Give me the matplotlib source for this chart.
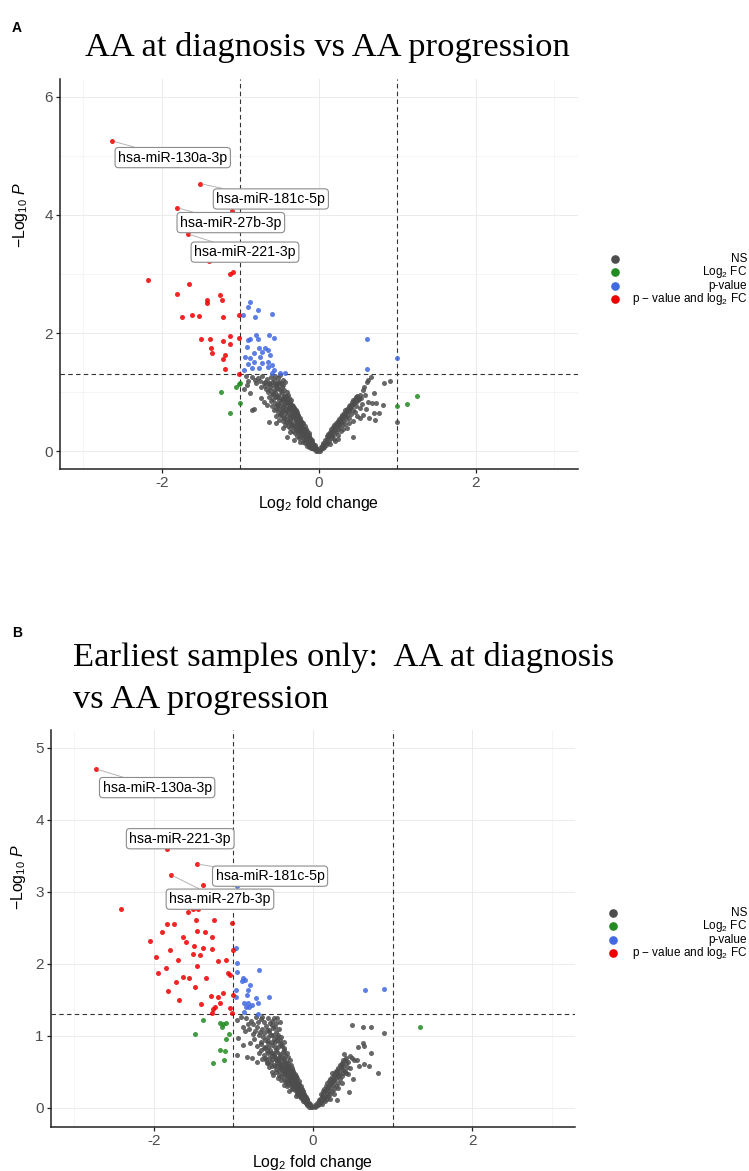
import numpy as np
import matplotlib
matplotlib.use('Agg')
import matplotlib.pyplot as plt
from matplotlib.lines import Line2D

plt.rcParams['font.family'] = ['Liberation Sans', 'DejaVu Sans']
plt.rcParams['mathtext.fontset'] = 'custom'
plt.rcParams['mathtext.rm'] = 'Liberation Sans'
plt.rcParams['mathtext.it'] = 'Liberation Sans:italic'
plt.rcParams['mathtext.bf'] = 'Liberation Sans:bold'

# ---------------- panel A: AA at diagnosis vs AA progression ----------------
# labelled miRNAs (log2FC, -log10 p)
top_a = ['hsa-miR-130a-3p', 'hsa-miR-181c-5p', 'hsa-miR-27b-3p', 'hsa-miR-221-3p']
top_a_fc = [-2.63, -1.51, -1.80, -1.67]
top_a_lp = [5.25, 4.53, 4.12, 3.68]

# p < 0.05 and |log2FC| > 1
both_a = [(-1.11, 4.07), (-1.40, 3.22), (-1.13, 3.00), (-1.09, 3.03), (-2.18, 2.90),
          (-1.65, 2.83), (-1.81, 2.66), (-1.26, 2.64), (-1.42, 2.56), (-1.42, 2.51),
          (-1.23, 2.56), (-1.74, 2.28), (-1.62, 2.30), (-1.52, 2.29), (-1.22, 2.28),
          (-1.01, 2.30), (-1.50, 1.90), (-1.39, 1.90), (-1.22, 1.87), (-1.13, 1.95),
          (-1.13, 1.81), (-1.01, 1.92), (-1.37, 1.75), (-1.36, 1.66), (-1.19, 1.63),
          (-1.22, 1.56), (-1.20, 1.39), (-1.01, 1.31)]

# p < 0.05 only
pval_a = [(-0.87, 2.53), (-0.90, 2.44), (-0.78, 2.39), (-0.81, 2.27), (-0.59, 2.32),
          (-0.97, 2.30), (-0.90, 1.88), (-0.87, 1.90), (-0.80, 1.97), (-0.78, 1.90),
          (-0.63, 1.97), (-0.57, 1.92), (-0.92, 1.76), (-0.76, 1.75), (-0.69, 1.75),
          (-0.65, 1.71), (-0.72, 1.68), (-0.83, 1.66), (-0.94, 1.59), (-0.87, 1.58),
          (-0.75, 1.59), (-0.62, 1.63), (-0.90, 1.47), (-0.82, 1.51), (-0.72, 1.49),
          (-0.65, 1.51), (-0.60, 1.46), (-0.95, 1.37), (-0.85, 1.41), (-0.76, 1.41),
          (-0.65, 1.42), (-0.57, 1.37), (-0.49, 1.32), (-0.43, 1.32), (-0.59, 1.32),
          (0.62, 1.90), (0.62, 1.39), (0.995, 1.58)]

# |log2FC| > 1 only
fc_a = [(-1.24, 1.00), (-1.13, 0.64), (-1.06, 1.08), (-1.00, 1.15), (-1.01, 1.13),
        (-1.00, 0.81), (1.00, 0.76), (1.13, 0.80), (1.25, 0.93)]

# not significant
ns_a = [(-0.93, 1.27), (-0.85, 1.25), (-0.77, 1.24), (-0.72, 1.28), (-0.66, 1.22),
        (-0.61, 1.26), (-0.57, 1.20), (-0.52, 1.24), (-0.49, 1.29), (-0.90, 1.19),
        (-0.80, 1.16), (-0.70, 1.15), (-0.64, 1.13), (-0.59, 1.17), (-0.55, 1.10),
        (-0.50, 1.14), (-0.92, 1.12), (-0.74, 1.08), (-0.67, 1.06), (-0.62, 1.09),
        (-0.57, 1.04), (-0.53, 1.07), (-0.48, 1.02), (-0.88, 0.99), (-0.65, 1.00),
        (-0.60, 0.97), (-0.56, 1.01), (-0.52, 0.95), (-0.47, 0.98), (-0.44, 0.94),
        (-0.83, 0.71), (-0.70, 0.83), (-0.73, 0.90), (-0.63, 0.92), (-0.58, 0.89),
        (-0.54, 0.91), (-0.50, 0.87), (-0.46, 0.90), (-0.42, 0.86), (-0.61, 0.85),
        (-0.56, 0.82), (-0.52, 0.80), (-0.48, 0.83), (-0.44, 0.79), (-0.40, 0.81),
        (-0.37, 0.77), (-0.66, 0.78), (-0.59, 0.76), (-0.54, 0.74), (-0.50, 0.72),
        (-0.46, 0.75), (-0.42, 0.71), (-0.38, 0.73), (-0.34, 0.69), (-0.57, 0.69),
        (-0.52, 0.66), (-0.47, 0.68), (-0.43, 0.64), (-0.39, 0.66), (-0.35, 0.62),
        (-0.31, 0.64), (-0.64, 0.49), (-0.55, 0.60), (-0.49, 0.61), (-0.45, 0.58),
        (-0.41, 0.59), (-0.37, 0.55), (-0.33, 0.57), (-0.29, 0.53), (-0.54, 0.47),
        (-0.50, 0.53), (-0.46, 0.51), (-0.42, 0.49), (-0.38, 0.50), (-0.35, 0.46),
        (-0.31, 0.48), (-0.27, 0.45), (-0.45, 0.39), (-0.43, 0.44), (-0.39, 0.42),
        (-0.36, 0.40), (-0.32, 0.41), (-0.29, 0.37), (-0.25, 0.39), (-0.22, 0.35),
        (-0.41, 0.24), (-0.37, 0.33), (-0.33, 0.35), (-0.30, 0.31), (-0.27, 0.33),
        (-0.24, 0.29), (-0.21, 0.30), (-0.18, 0.27), (-0.32, 0.19), (-0.28, 0.25),
        (-0.25, 0.23), (-0.22, 0.24), (-0.19, 0.21), (-0.16, 0.22), (-0.14, 0.18),
        (-0.24, 0.15), (-0.20, 0.16), (-0.17, 0.14), (-0.14, 0.13), (-0.12, 0.15),
        (-0.10, 0.11), (-0.15, 0.09), (-0.12, 0.08), (-0.09, 0.07), (-0.07, 0.09),
        (-0.05, 0.05), (-0.04, 0.03), (-0.02, 0.02), (-0.01, 0.01), (-0.48, 0.63),
        (-0.44, 0.56), (-0.40, 0.53), (-0.36, 0.51), (-0.34, 0.44), (-0.30, 0.42),
        (-0.26, 0.36), (-0.23, 0.32), (-0.20, 0.26), (-0.18, 0.19), (-0.15, 0.17),
        (-0.11, 0.12), (-0.08, 0.10), (-0.06, 0.06), (-0.53, 0.78), (-0.49, 0.76),
        (-0.45, 0.70), (-0.41, 0.68), (-0.37, 0.60), (-0.33, 0.59), (-0.28, 0.50),
        (-0.26, 0.47), (-0.85, 0.70), (-0.95, 1.05),
        (-0.46, 1.21), (-0.43, 1.17), (-0.51, 1.18), (-0.54, 1.13), (-0.47, 1.09),
        (-0.44, 1.04), (-0.41, 1.00), (-0.50, 1.05), (-0.45, 1.12), (-0.39, 0.96),
        (-0.42, 0.93), (-0.38, 0.90), (-0.35, 0.86), (-0.44, 0.88), (-0.40, 0.84),
        (-0.36, 0.80), (-0.33, 0.77), (-0.31, 0.73), (-0.29, 0.69), (-0.32, 0.67),
        (-0.28, 0.63), (-0.26, 0.60), (-0.30, 0.61), (-0.27, 0.56), (-0.25, 0.54),
        (-0.23, 0.50), (-0.21, 0.47), (-0.24, 0.45), (-0.22, 0.42), (-0.20, 0.39),
        (-0.19, 0.36), (-0.17, 0.33), (-0.16, 0.30), (-0.14, 0.27), (-0.13, 0.24),
        (-0.12, 0.21), (-0.11, 0.19), (-0.10, 0.17), (-0.09, 0.14), (-0.08, 0.12),
        (-0.07, 0.11), (-0.06, 0.09), (-0.05, 0.08), (-0.04, 0.06), (-0.03, 0.05),
        (-0.02, 0.04), (-0.03, 0.01), (-0.06, 0.03), (-0.08, 0.05), (-0.10, 0.06),
        (-0.58, 0.97), (-0.55, 0.94), (-0.51, 0.91), (-0.47, 0.86), (-0.43, 0.82),
        (-0.39, 0.75), (-0.36, 0.71), (-0.34, 0.66), (-0.31, 0.59), (-0.29, 0.55),
        (-0.27, 0.51), (-0.25, 0.46), (-0.23, 0.41), (-0.21, 0.37), (-0.19, 0.32),
        (-0.17, 0.29), (-0.15, 0.25), (-0.13, 0.20), (-0.12, 0.17), (-0.10, 0.14),
        (-0.62, 1.03), (-0.68, 1.11), (-0.75, 1.19), (-0.81, 1.21), (-0.69, 1.18),
        (-0.63, 1.16), (-0.58, 1.12), (-0.53, 1.16), (-0.48, 1.15), (-0.56, 1.27),
        (-0.40, 0.89), (-0.37, 0.84), (-0.34, 0.79), (-0.32, 0.74), (-0.30, 0.70),
        (-0.28, 0.66), (-0.26, 0.62), (-0.24, 0.57), (-0.22, 0.52), (-0.20, 0.48),
        (-0.18, 0.43), (-0.16, 0.38), (-0.15, 0.34), (-0.13, 0.31), (-0.12, 0.27),
        (-0.11, 0.23), (-0.09, 0.19), (-0.08, 0.16), (-0.07, 0.13), (-0.05, 0.10),
        (0.66, 1.26), (0.63, 1.20), (0.83, 1.15), (0.91, 1.19), (0.61, 1.17),
        (0.58, 1.08), (0.56, 1.03), (0.52, 0.95), (0.59, 0.95), (0.70, 0.98),
        (0.63, 0.83), (0.68, 0.81), (0.73, 0.81), (0.82, 0.78), (0.70, 0.64),
        (0.77, 0.64), (0.72, 0.53), (0.64, 0.56), (0.44, 0.24), (1.00, 0.49),
        (0.54, 0.90), (0.50, 0.86), (0.47, 0.91), (0.45, 0.83), (0.42, 0.79),
        (0.48, 0.77), (0.52, 0.74), (0.40, 0.73), (0.44, 0.70), (0.38, 0.68),
        (0.46, 0.66), (0.41, 0.63), (0.36, 0.62), (0.33, 0.59), (0.39, 0.57),
        (0.35, 0.54), (0.31, 0.52), (0.43, 0.51), (0.28, 0.49), (0.33, 0.46),
        (0.30, 0.44), (0.26, 0.41), (0.24, 0.37), (0.28, 0.35), (0.22, 0.33),
        (0.20, 0.29), (0.25, 0.28), (0.17, 0.26), (0.15, 0.22), (0.19, 0.20),
        (0.13, 0.17), (0.11, 0.14), (0.14, 0.12), (0.09, 0.10), (0.07, 0.07),
        (0.05, 0.05), (0.03, 0.03), (0.02, 0.01), (0.36, 0.40), (0.31, 0.37),
        (0.57, 0.62), (0.60, 0.72), (0.55, 0.80), (0.49, 0.60), (0.53, 0.57),
        (0.38, 0.48), (0.25, 0.20), (0.21, 0.17),
        (0.10, 0.25), (0.12, 0.30), (0.14, 0.33), (0.16, 0.38), (0.18, 0.41),
        (0.20, 0.44), (0.22, 0.48), (0.24, 0.52), (0.26, 0.55), (0.28, 0.58),
        (0.30, 0.62), (0.32, 0.65), (0.34, 0.69), (0.36, 0.72), (0.38, 0.76),
        (0.40, 0.79), (0.42, 0.83), (0.44, 0.86), (0.46, 0.89), (0.49, 0.93),
        (0.08, 0.19), (0.11, 0.21), (0.13, 0.27), (0.15, 0.31), (0.17, 0.35),
        (0.19, 0.38), (0.21, 0.42), (0.23, 0.45), (0.25, 0.49), (0.27, 0.52),
        (0.29, 0.56), (0.31, 0.60), (0.33, 0.63), (0.35, 0.66), (0.37, 0.70),
        (0.39, 0.73), (0.41, 0.76), (0.43, 0.80), (0.47, 0.84), (0.51, 0.88),
        (0.06, 0.14), (0.04, 0.09), (0.07, 0.12), (0.05, 0.11), (0.03, 0.07),
        (0.09, 0.16), (0.12, 0.24), (0.16, 0.27), (0.21, 0.36), (0.26, 0.46)]

# ---------------- panel B: earliest samples only ----------------
top_b = ['hsa-miR-130a-3p', 'hsa-miR-221-3p', 'hsa-miR-181c-5p', 'hsa-miR-27b-3p']
top_b_fc = [-2.73, -1.84, -1.46, -1.79]
top_b_lp = [4.71, 3.60, 3.39, 3.24]

both_b = [(-1.38, 3.10), (-2.42, 2.76), (-1.57, 2.72), (-1.51, 2.76), (-1.45, 2.76),
          (-1.84, 2.56), (-1.47, 2.61), (-1.25, 2.61), (-1.02, 2.57), (-1.64, 2.38),
          (-1.46, 2.46), (-1.36, 2.44), (-1.27, 2.38), (-1.50, 2.25), (-1.38, 2.22),
          (-1.27, 2.21), (-1.01, 2.19), (-1.51, 2.14), (-1.42, 2.12), (-1.19, 2.04),
          (-1.09, 2.06), (-1.46, 1.97), (-1.07, 1.88), (-1.04, 1.85), (-1.64, 1.82),
          (-1.56, 1.81), (-1.35, 1.81), (-1.48, 1.68), (-1.13, 1.60), (-1.28, 1.56),
          (-1.19, 1.54), (-1.01, 1.57), (-1.41, 1.44), (-1.23, 1.40), (-1.26, 1.38),
          (-1.17, 1.46), (-1.04, 1.39), (-1.27, 1.32), (-1.02, 1.32), (-2.05, 2.32),
          (-1.98, 2.10), (-1.90, 2.45), (-1.85, 1.95), (-1.80, 2.20), (-1.75, 2.55),
          (-1.72, 1.75), (-1.70, 2.05), (-1.95, 1.88), (-1.82, 1.62), (-1.68, 1.50),
          (-1.60, 2.30)]

pval_b = [(-0.96, 3.08), (-0.97, 2.22), (-0.96, 2.02), (-0.68, 1.92), (-0.96, 1.89),
          (-0.88, 1.81), (-0.86, 1.78), (-0.89, 1.76), (-0.79, 1.71), (-0.82, 1.64),
          (-0.97, 1.64), (-0.83, 1.57), (-0.72, 1.53), (-0.69, 1.46), (-0.55, 1.54),
          (-0.87, 1.46), (-0.82, 1.46), (-0.84, 1.40), (-0.81, 1.40), (-0.77, 1.43),
          (-0.97, 1.54), (-0.87, 1.33), (-0.69, 1.31), (0.65, 1.64), (0.89, 1.65)]

fc_b = [(-1.38, 1.22), (-1.48, 1.03), (-1.17, 1.18), (-1.13, 1.17), (-1.09, 1.18),
        (-1.14, 1.13), (-1.06, 1.03), (-1.17, 0.81), (-1.11, 0.79), (-1.09, 0.96),
        (-1.26, 0.63), (-1.12, 0.67), (1.35, 1.13)]

ns_b = [(-0.96, 1.22), (-0.90, 1.27), (-0.84, 1.25), (-0.78, 1.21), (-0.72, 1.26),
        (-0.66, 1.23), (-0.62, 1.20), (-0.57, 1.25), (-0.51, 1.21), (-0.46, 1.18),
        (-0.88, 1.13), (-0.82, 1.16), (-0.70, 1.13), (-0.64, 1.10), (-0.59, 1.14),
        (-0.55, 1.08), (-0.50, 1.11), (-0.47, 1.05), (-0.43, 1.09), (-0.94, 0.97),
        (-0.76, 1.03), (-0.68, 1.01), (-0.61, 1.04), (-0.57, 0.98), (-0.53, 1.01),
        (-0.49, 0.96), (-0.45, 0.99), (-0.41, 0.94), (-0.88, 0.88), (-0.79, 0.90),
        (-0.60, 0.85), (-0.66, 0.92), (-0.56, 0.90), (-0.52, 0.87), (-0.48, 0.91),
        (-0.44, 0.85), (-0.40, 0.88), (-0.37, 0.83), (-0.96, 0.74), (-0.83, 0.71),
        (-0.77, 0.69), (-0.70, 0.64), (-0.58, 0.79), (-0.54, 0.81), (-0.50, 0.77),
        (-0.46, 0.80), (-0.42, 0.75), (-0.38, 0.78), (-0.35, 0.73), (-0.62, 0.73),
        (-0.55, 0.70), (-0.51, 0.72), (-0.47, 0.67), (-0.43, 0.70), (-0.39, 0.65),
        (-0.36, 0.68), (-0.32, 0.63), (-0.58, 0.62), (-0.53, 0.64), (-0.49, 0.60),
        (-0.45, 0.62), (-0.41, 0.58), (-0.37, 0.60), (-0.34, 0.56), (-0.30, 0.58),
        (-0.27, 0.53), (-0.52, 0.50), (-0.47, 0.54), (-0.43, 0.51), (-0.39, 0.53),
        (-0.35, 0.49), (-0.32, 0.51), (-0.29, 0.47), (-0.25, 0.49), (-0.23, 0.44),
        (-0.44, 0.41), (-0.40, 0.45), (-0.36, 0.42), (-0.33, 0.44), (-0.30, 0.40),
        (-0.27, 0.42), (-0.24, 0.38), (-0.21, 0.40), (-0.19, 0.35), (-0.37, 0.32),
        (-0.34, 0.36), (-0.31, 0.33), (-0.28, 0.35), (-0.25, 0.31), (-0.22, 0.33),
        (-0.19, 0.29), (-0.17, 0.31), (-0.15, 0.27), (-0.30, 0.24), (-0.26, 0.27),
        (-0.23, 0.25), (-0.20, 0.22), (-0.17, 0.24), (-0.15, 0.20), (-0.13, 0.22),
        (-0.11, 0.18), (-0.22, 0.16), (-0.18, 0.17), (-0.15, 0.14), (-0.12, 0.15),
        (-0.10, 0.12), (-0.08, 0.13), (-0.13, 0.09), (-0.10, 0.08), (-0.08, 0.06),
        (-0.06, 0.07), (-0.04, 0.04), (-0.03, 0.02), (-0.01, 0.01), (-0.48, 0.71),
        (-0.44, 0.66), (-0.40, 0.61), (-0.36, 0.55), (-0.33, 0.52), (-0.29, 0.45),
        (-0.26, 0.41), (-0.24, 0.36), (-0.21, 0.30), (-0.18, 0.25), (-0.16, 0.19),
        (-0.14, 0.16), (-0.11, 0.11), (-0.09, 0.10), (-0.07, 0.08), (-0.56, 0.76),
        (-0.52, 0.68), (-0.46, 0.58), (-0.42, 0.55), (-0.38, 0.48), (-0.31, 0.38),
        (-0.28, 0.30), (-0.20, 0.19), (-0.86, 1.07), (-0.74, 0.96), (-0.70, 0.86),
        (-0.65, 0.80), (-0.60, 0.69), (-0.55, 0.57), (-0.50, 0.46),
        (-0.45, 1.25), (-0.41, 1.20), (-0.52, 1.15), (-0.48, 1.13), (-0.44, 1.02),
        (-0.40, 0.98), (-0.37, 0.92), (-0.45, 0.95), (-0.50, 1.02), (-0.55, 1.05),
        (-0.42, 0.90), (-0.39, 0.86), (-0.36, 0.80), (-0.33, 0.76), (-0.31, 0.71),
        (-0.29, 0.66), (-0.34, 0.64), (-0.28, 0.60), (-0.26, 0.56), (-0.31, 0.55),
        (-0.25, 0.51), (-0.23, 0.47), (-0.21, 0.44), (-0.20, 0.41), (-0.18, 0.37),
        (-0.17, 0.33), (-0.15, 0.30), (-0.14, 0.26), (-0.12, 0.23), (-0.11, 0.20),
        (-0.10, 0.17), (-0.09, 0.15), (-0.08, 0.11), (-0.07, 0.10), (-0.05, 0.07),
        (-0.04, 0.06), (-0.02, 0.03), (-0.05, 0.02), (-0.07, 0.04), (-0.09, 0.07),
        (-0.60, 0.95), (-0.56, 0.93), (-0.52, 0.92), (-0.48, 0.84), (-0.45, 0.78),
        (-0.41, 0.72), (-0.38, 0.69), (-0.35, 0.62), (-0.33, 0.59), (-0.30, 0.53),
        (-0.28, 0.49), (-0.26, 0.45), (-0.24, 0.42), (-0.22, 0.37), (-0.20, 0.33),
        (-0.18, 0.28), (-0.16, 0.23), (-0.14, 0.20), (-0.13, 0.17), (-0.11, 0.14),
        (-0.64, 1.27), (-0.69, 1.19), (-0.75, 1.16), (-0.80, 1.10), (-0.73, 1.07),
        (-0.67, 1.06), (-0.63, 0.99), (-0.58, 1.08), (-0.54, 1.18), (-0.49, 1.25),
        (-0.65, 0.89), (-0.62, 0.83), (-0.57, 0.84), (-0.53, 0.77), (-0.49, 0.74),
        (-0.46, 0.68), (-0.43, 0.62), (-0.40, 0.57), (-0.37, 0.52), (-0.35, 0.47),
        (-0.32, 0.43), (-0.29, 0.38), (-0.27, 0.34), (-0.25, 0.28), (-0.22, 0.26),
        (-0.19, 0.22), (-0.17, 0.19), (-0.15, 0.16), (-0.12, 0.12), (-0.10, 0.09),
        (-0.68, 0.76), (-0.64, 0.68), (-0.59, 0.66), (-0.56, 0.63), (-0.52, 0.58),
        (-0.47, 0.50), (-0.43, 0.46), (-0.40, 0.39), (-0.35, 0.38), (-0.33, 0.31),
        (0.49, 1.15), (0.63, 1.13), (0.73, 1.13), (0.89, 1.04), (0.57, 0.85),
        (0.63, 0.90), (0.64, 0.86), (0.73, 0.77), (0.39, 0.75), (0.49, 0.69),
        (0.52, 0.67), (0.58, 0.58), (0.64, 0.61), (0.70, 0.58), (0.82, 0.49),
        (0.38, 0.67), (0.38, 0.58), (0.38, 0.49), (0.30, 0.50), (0.24, 0.49),
        (0.45, 0.22), (0.30, 0.11), (0.50, 0.40), (0.55, 0.67), (0.41, 0.62),
        (0.35, 0.55), (0.33, 0.46), (0.29, 0.42), (0.27, 0.37), (0.31, 0.35),
        (0.25, 0.32), (0.22, 0.29), (0.26, 0.26), (0.20, 0.24), (0.18, 0.21),
        (0.22, 0.19), (0.16, 0.17), (0.14, 0.14), (0.17, 0.12), (0.12, 0.11),
        (0.10, 0.08), (0.08, 0.06), (0.06, 0.04), (0.04, 0.03), (0.02, 0.01),
        (0.36, 0.44), (0.40, 0.52), (0.43, 0.57), (0.34, 0.40), (0.29, 0.30),
        (0.24, 0.23), (0.19, 0.16), (0.32, 0.28), (0.27, 0.20), (0.21, 0.13),
        (0.44, 0.47), (0.47, 0.55), (0.37, 0.34), (0.15, 0.09), (0.11, 0.05),
        (0.10, 0.20), (0.12, 0.24), (0.14, 0.27), (0.16, 0.31), (0.18, 0.34),
        (0.20, 0.37), (0.22, 0.40), (0.24, 0.43), (0.26, 0.46), (0.28, 0.50),
        (0.30, 0.53), (0.32, 0.56), (0.34, 0.60), (0.36, 0.63), (0.38, 0.53),
        (0.40, 0.66), (0.42, 0.70), (0.31, 0.45), (0.27, 0.40), (0.23, 0.35),
        (0.19, 0.29), (0.15, 0.23), (0.13, 0.19), (0.11, 0.16), (0.09, 0.13),
        (0.07, 0.09), (0.05, 0.07), (0.03, 0.04), (0.08, 0.11), (0.13, 0.15),
        (0.17, 0.27), (0.21, 0.33), (0.25, 0.37), (0.29, 0.47), (0.33, 0.50),
        (0.35, 0.58), (0.37, 0.61), (0.44, 0.64), (0.46, 0.72), (0.41, 0.48)]

legend_labels = ['NS', r'Log$_2$ FC', 'p-value', r'p $-$ value and log$_2$ FC']
colours = ['#4d4d4d', '#228b22', '#4169e1', '#ee0000']

W, H = 749, 1171
fig = plt.figure(figsize=(W / 100, H / 100), dpi=100)


def px_axes(l, t, r, b):
    return fig.add_axes([l / W, 1 - b / H, (r - l) / W, (b - t) / H])


def volcano(ax, groups, names, fcs, lps, boxes, ylim, yticks, yminor, ylab_pos):
    ax.set_xlim(-3.3, 3.3)
    ax.set_ylim(*ylim)
    ax.set_xticks([-2, 0, 2])
    ax.set_xticks([-3, -1, 1, 3], minor=True)
    ax.set_yticks(yticks)
    ax.set_yticks(yminor, minor=True)
    ax.grid(which='major', color='#ebebeb', lw=0.7)
    ax.grid(which='minor', color='#f2f2f2', lw=0.5)
    ax.set_axisbelow(True)
    for s in ['top', 'right']:
        ax.spines[s].set_visible(False)
    for s in ['left', 'bottom']:
        ax.spines[s].set_linewidth(1.1)
        ax.spines[s].set_color('#222222')
    ax.tick_params(which='major', length=3, width=0.9, color='#222222',
                   labelsize=11, labelcolor='#4d4d4d', pad=2)
    ax.tick_params(which='minor', length=0)
    ax.set_xticklabels(['-2', '0', '2'])

    for pts, c in zip(groups, colours):
        arr = np.array(pts)
        ax.scatter(arr[:, 0], arr[:, 1], s=13, color=c, alpha=0.85,
                   linewidths=0, zorder=3)
    ax.scatter(fcs, lps, s=13, color=colours[3], alpha=0.85, linewidths=0, zorder=3)

    ax.axvline(-1, color='#333333', lw=0.8, ls=(0, (4, 3)), zorder=2)
    ax.axvline(1, color='#333333', lw=0.8, ls=(0, (4, 3)), zorder=2)
    ax.axhline(-np.log10(0.05), color='#333333', lw=0.8, ls=(0, (4, 3)), zorder=2)

    for name, x, y, (bx, by) in zip(names, fcs, lps, boxes):
        ax.annotate(name, xy=(x, y), xytext=(bx, by), textcoords='data',
                    ha='center', va='center', fontsize=10.2, zorder=5,
                    bbox=dict(boxstyle='round,pad=0.22,rounding_size=0.25',
                              fc='white', ec='#8c8c8c', lw=0.8),
                    arrowprops=dict(arrowstyle='-', color='#b5b5b5', lw=0.7,
                                    shrinkA=0, shrinkB=2))

    ax.set_xlabel(r'Log$_2$ fold change', fontsize=11.4, labelpad=3)
    ax.set_ylabel(r'$-$Log$_{10}$ $\mathit{P}$', fontsize=11.4)
    ax.yaxis.set_label_coords(*ylab_pos)


def legend(x_dot, x_txt, ys):
    for y, c, lab in zip(ys, colours, legend_labels):
        fig.add_artist(Line2D([x_dot / W], [1 - y / H], marker='o', ms=5.2,
                              color=c, ls='none', transform=fig.transFigure))
        fig.text(x_txt / W, 1 - y / H, lab, ha='right', va='center', fontsize=8.5)


# panel A
ax_a = px_axes(59.7, 79, 577.8, 469)
volcano(ax_a, [ns_a, fc_a, pval_a, both_a], top_a, top_a_fc, top_a_lp,
        [(-1.86, 4.97), (-0.61, 4.27), (-1.12, 3.87), (-0.94, 3.37)],
        (-0.3, 6.3), [0, 2, 4, 6], [1, 3, 5], (-0.057, 0.65))
legend(615, 747, [259, 272, 286, 299])

# panel B
ax_b = px_axes(50.6, 730, 575.4, 1127.4)
volcano(ax_b, [ns_b, fc_b, pval_b, both_b], top_b, top_b_fc, top_b_lp,
        [(-1.96, 4.45), (-1.67, 3.74), (-0.54, 3.22), (-1.17, 2.90)],
        (-0.27, 5.25), [0, 1, 2, 3, 4, 5], [], (-0.043, 0.63))
legend(613, 747, [913, 926, 940, 953])

serif = ['Liberation Serif', 'DejaVu Serif']
fig.text(17 / W, 1 - 28 / H, 'A', fontsize=10, fontweight='bold', ha='center', va='center')
fig.text(85 / W, 1 - 56 / H, 'AA at diagnosis vs AA progression',
         family=serif, fontsize=24.8, va='baseline')
fig.text(17 / W, 1 - 633 / H, 'B', fontsize=10, fontweight='bold', ha='center', va='center')
fig.text(73 / W, 1 - 666 / H, 'Earliest samples only:  AA at diagnosis',
         family=serif, fontsize=24.8, va='baseline')
fig.text(73 / W, 1 - 708 / H, 'vs AA progression',
         family=serif, fontsize=24.8, va='baseline')

fig.savefig('out.png', dpi=100, facecolor='white')
